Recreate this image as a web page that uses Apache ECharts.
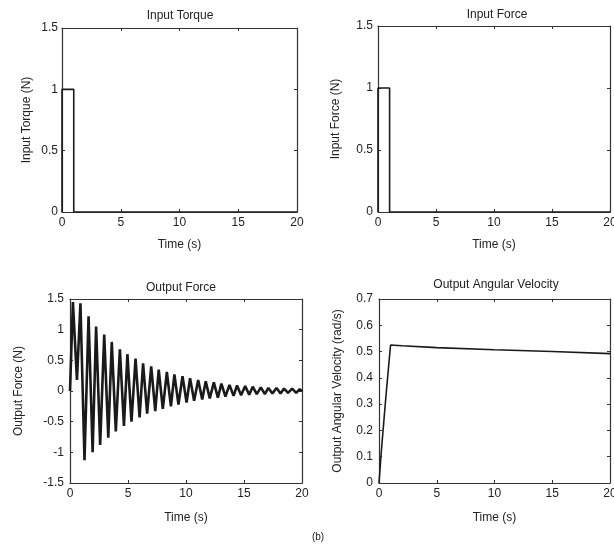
<!DOCTYPE html>
<html>
<head>
<meta charset="utf-8">
<script src="https://cdn.jsdelivr.net/npm/echarts@6/dist/echarts.min.js"></script>
<style>
  html, body { margin: 0; padding: 0; background: #fff; }
  #chart { width: 614px; height: 549px; }
</style>
</head>
<body>
<div id="chart"></div>
<script>
// Input pulse: 1 N from t = 0 to t = 1 s
const inputTorque = [[0, 0], [0, 1], [1, 1], [1, 0], [20, 0]];
const inputForce = [[0, 0], [0, 1], [1, 1], [1, 0], [20, 0]];

// Output force: alternating extrema of the damped oscillation [t, N]
const outputForce = [
  [0, 0], [0.25, 1.45], [0.6, 0.18], [0.9, 1.43], [1.25, -1.13], [1.6, 1.22],
  [1.95, -1.0], [2.25, 1.05], [2.6, -0.88], [2.95, 0.92], [3.3, -0.76],
  [3.6, 0.80], [3.95, -0.66], [4.3, 0.68], [4.65, -0.57], [4.95, 0.60],
  [5.3, -0.50], [5.65, 0.53], [6.0, -0.43], [6.3, 0.45], [6.65, -0.37],
  [7.0, 0.40], [7.35, -0.33], [7.65, 0.35], [8.0, -0.29], [8.35, 0.31],
  [8.7, -0.25], [9.0, 0.27], [9.35, -0.22], [9.7, 0.24], [10.05, -0.19],
  [10.35, 0.21], [10.7, -0.16], [11.05, 0.18], [11.4, -0.14], [11.7, 0.16],
  [12.05, -0.12], [12.4, 0.14], [12.75, -0.11], [13.05, 0.12], [13.4, -0.09],
  [13.75, 0.10], [14.1, -0.08], [14.4, 0.09], [14.75, -0.07], [15.1, 0.08],
  [15.45, -0.06], [15.75, 0.07], [16.1, -0.05], [16.45, 0.06], [16.8, -0.05],
  [17.1, 0.05], [17.45, -0.04], [17.8, 0.05], [18.15, -0.04], [18.45, 0.04],
  [18.8, -0.03], [19.15, 0.04], [19.5, -0.03], [19.8, 0.03], [20, 0]
];

// Output angular velocity [t, rad/s]
const outputAngularVelocity = [
  [0, 0], [0.2, 0.12], [0.6, 0.33], [1.0, 0.525], [2, 0.522],
  [5, 0.515], [10, 0.507], [15, 0.5], [20, 0.492]
];

const timeTicks = { min: 0, max: 20, interval: 5 };

const panels = [
  { title: 'Input Torque', yName: 'Input Torque (N)', data: inputTorque,
    grid: { left: 62, top: 28, width: 235, height: 184 },
    y: { min: 0, max: 1.5, interval: 0.5 }, yGap: 29, yMargin: 4, xGap: 27, titleX: 180, titleY: 16 },
  { title: 'Input Force', yName: 'Input Force (N)', data: inputForce,
    grid: { left: 378, top: 26, width: 232, height: 186 },
    y: { min: 0, max: 1.5, interval: 0.5 }, yGap: 36, yMargin: 5, xGap: 27, titleX: 497, titleY: 15 },
  { title: 'Output Force', yName: 'Output Force (N)', data: outputForce,
    grid: { left: 70, top: 299, width: 232, height: 184 },
    y: { min: -1.5, max: 1.5, interval: 0.5 }, yGap: 45, yMargin: 6, xGap: 29, titleX: 181, titleY: 288 },
  { title: 'Output Angular Velocity', yName: 'Output Angular Velocity (rad/s)', data: outputAngularVelocity,
    grid: { left: 379, top: 299, width: 231, height: 184 },
    y: { min: 0, max: 0.7, interval: 0.1 }, yGap: 35, yMargin: 6, xGap: 29, titleX: 496, titleY: 285 }
];

const textColor = '#222';
const axisColor = '#333';
const font = 'Liberation Sans, Arial, sans-serif';
const fs = 12;

const grids = [], xAxes = [], yAxes = [], series = [], graphics = [];

panels.forEach((p, i) => {
  grids.push(Object.assign({ containLabel: false, outerBoundsMode: 'none' }, p.grid));
  const tick = { show: true, inside: true, length: 3, lineStyle: { color: axisColor } };
  const line = { show: true, onZero: false, lineStyle: { color: axisColor, width: 1.2 } };
  xAxes.push({
    type: 'value', gridIndex: i, position: 'bottom',
    min: timeTicks.min, max: timeTicks.max, interval: timeTicks.interval,
    axisLine: line, axisTick: tick, splitLine: { show: false },
    axisLabel: { color: textColor, fontSize: fs, fontFamily: font, margin: 5 },
    name: 'Time (s)', nameLocation: 'middle', nameGap: p.xGap,
    nameTextStyle: { color: textColor, fontSize: fs, fontFamily: font }
  });
  xAxes.push({
    type: 'value', gridIndex: i, position: 'top',
    min: timeTicks.min, max: timeTicks.max, interval: timeTicks.interval,
    axisLine: line, axisTick: tick, splitLine: { show: false },
    axisLabel: { show: false }
  });
  yAxes.push({
    type: 'value', gridIndex: i, position: 'left',
    min: p.y.min, max: p.y.max, interval: p.y.interval,
    axisLine: line, axisTick: tick, splitLine: { show: false },
    axisLabel: { color: textColor, fontSize: fs, fontFamily: font, margin: p.yMargin },
    name: p.yName, nameLocation: 'middle', nameGap: p.yGap,
    nameTextStyle: { color: textColor, fontSize: fs, fontFamily: font }
  });
  yAxes.push({
    type: 'value', gridIndex: i, position: 'right',
    min: p.y.min, max: p.y.max, interval: p.y.interval,
    axisLine: line, axisTick: tick, splitLine: { show: false },
    axisLabel: { show: false }
  });
  series.push({
    type: 'line', xAxisIndex: 2 * i, yAxisIndex: 2 * i,
    data: p.data, showSymbol: false, symbol: 'none', animation: false,
    lineStyle: { color: '#1a1a1a', width: i === 2 ? 2.6 : 1.6 }, clip: true
  });
  graphics.push({
    type: 'text', x: p.titleX, y: p.titleY,
    style: { text: p.title, fill: textColor, font: fs + 'px ' + font, textAlign: 'center', textVerticalAlign: 'middle' }
  });
});

graphics.push({
  type: 'text', x: 318, y: 537,
  style: { text: '(b)', fill: textColor, font: '10px ' + font, textAlign: 'center', textVerticalAlign: 'middle' }
});

const chart = echarts.init(document.getElementById('chart'), null, { renderer: 'canvas' });
chart.setOption({
  animation: false,
  backgroundColor: '#fff',
  grid: grids,
  xAxis: xAxes,
  yAxis: yAxes,
  series: series,
  graphic: graphics
});
</script>
</body>
</html>
